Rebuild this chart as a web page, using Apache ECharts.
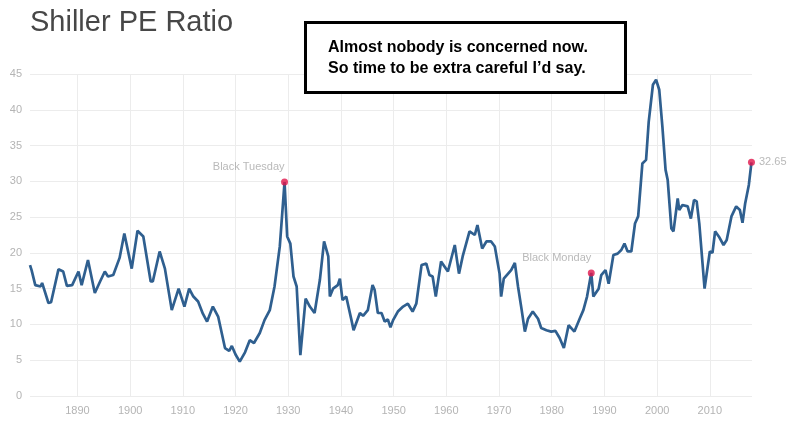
<!DOCTYPE html>
<html>
<head>
    <meta http-equiv="Content-Type" content="text/html; charset=UTF-8">
    <title>Shiller PE Ratio</title>
    <script src="https://cdn.jsdelivr.net/npm/echarts@6/dist/echarts.min.js"></script>
    <style>
        html, body { margin: 0; padding: 0; background: #fff; }
    </style>
</head>
<body>
    <div id="main" style="width: 800px;height:425px;"></div>

    <script type="text/javascript">
        // 数据：年份（小数表示年内位置）与 Shiller PE
        var years = [
            1881.0, 1881.3, 1882.0, 1883.0, 1883.3, 1884.5, 1885.0, 1886.4, 1887.3, 1888.0,
            1889.0, 1890.2, 1890.8, 1892.0, 1893.3, 1894.3, 1895.2, 1895.8, 1896.8, 1898.0,
            1898.9, 1900.3, 1901.4, 1902.5, 1903.9, 1904.3, 1905.6, 1906.6, 1907.9, 1909.2,
            1910.3, 1911.2, 1912.0, 1912.9, 1913.8, 1914.6, 1915.7, 1916.7, 1918.0, 1918.8,
            1919.3, 1920.0, 1920.8, 1921.8, 1922.7, 1923.5, 1924.6, 1925.5, 1926.5, 1927.4,
            1928.4, 1929.3, 1929.8, 1930.4, 1931.0, 1931.6, 1932.3, 1933.3, 1934.1, 1935.0,
            1936.0, 1936.8, 1937.6, 1937.9, 1938.5, 1939.4, 1939.8, 1940.3, 1941.0, 1942.0,
            1942.4, 1943.6, 1944.2, 1945.1, 1946.0, 1946.4, 1947.0, 1947.7, 1948.3, 1948.9,
            1949.4, 1949.9, 1950.8, 1951.8, 1952.7, 1953.6, 1954.3, 1955.3, 1956.2, 1956.8,
            1957.4, 1958.0, 1959.0, 1960.3, 1961.6, 1962.4, 1963.1, 1964.4, 1965.4, 1965.9,
            1966.8, 1967.6, 1968.5, 1969.2, 1970.1, 1970.4, 1970.9, 1972.3, 1973.0, 1973.6,
            1974.3, 1974.9, 1975.5, 1976.4, 1977.4, 1978.0, 1979.0, 1979.9, 1980.7, 1981.5,
            1982.3, 1983.2, 1984.3, 1985.3, 1986.0, 1986.7, 1987.5, 1987.9, 1988.9, 1989.4,
            1990.2, 1990.8, 1991.7, 1992.5, 1993.2, 1993.8, 1994.4, 1995.1, 1995.8, 1996.4,
            1997.2, 1997.9, 1998.4, 1999.2, 1999.8, 2000.4, 2001.0, 2001.6, 2002.0, 2002.7,
            2003.1, 2003.9, 2004.2, 2004.8, 2005.8, 2006.4, 2007.0, 2007.5, 2008.0, 2009.0,
            2010.0, 2010.5, 2011.0, 2011.7, 2012.6, 2013.2, 2014.1, 2015.0, 2015.7, 2016.2,
            2016.7, 2017.4, 2017.9
        ];
        var peValues = [
            18.3, 17.6, 15.5, 15.3, 15.8, 13.0, 13.1, 17.7, 17.4, 15.4,
            15.5, 17.4, 15.5, 19.0, 14.4, 16.0, 17.4, 16.7, 16.9, 19.3,
            22.7, 17.8, 23.1, 22.3, 16.0, 16.0, 20.2, 17.8, 12.0, 15.0,
            12.5, 15.0, 13.9, 13.2, 11.5, 10.4, 12.5, 11.1, 6.7, 6.3,
            7.0, 5.8, 4.8, 6.1, 7.8, 7.4, 8.8, 10.6, 12.0, 15.3,
            20.9, 29.9, 22.3, 21.3, 16.7, 15.3, 5.7, 13.6, 12.5, 11.6,
            16.2, 21.6, 19.5, 13.9, 15.0, 15.5, 16.4, 13.4, 13.9, 10.6,
            9.2, 11.6, 11.2, 12.0, 15.5, 14.8, 11.6, 11.6, 10.4, 10.7,
            9.6, 10.6, 11.8, 12.5, 12.9, 11.8, 12.9, 18.3, 18.5, 16.9,
            16.7, 13.9, 18.8, 17.4, 21.1, 17.1, 19.5, 23.0, 22.5, 23.9,
            20.6, 21.6, 21.6, 20.9, 17.1, 13.9, 16.4, 17.6, 18.6, 15.3,
            12.0, 9.0, 10.8, 11.8, 10.8, 9.5, 9.2, 9.0, 9.1, 8.1,
            6.7, 9.9, 9.0, 10.8, 12.0, 13.9, 17.2, 13.9, 15.0, 16.9,
            17.6, 15.7, 19.7, 19.9, 20.4, 21.3, 20.2, 20.2, 24.1, 25.1,
            32.5, 33.0, 38.3, 43.5, 44.2, 42.8, 37.6, 31.6, 30.2, 23.4,
            23.0, 27.6, 26.0, 26.7, 26.5, 24.8, 27.4, 27.2, 24.1, 15.0,
            20.2, 20.0, 23.0, 22.3, 21.1, 21.8, 25.1, 26.5, 26.0, 24.2,
            26.9, 29.5, 32.65
        ];

        // 标注点
        var eventYears = [1929.3, 1987.5, 2017.9];
        var eventValues = [29.9, 17.2, 32.65];
        var eventLabels = ['Black Tuesday', 'Black Monday', '32.65'];

        // 坐标轴刻度
        var yearTicks = [1890, 1900, 1910, 1920, 1930, 1940, 1950, 1960, 1970, 1980, 1990, 2000, 2010];

        var lineData = years.map(function (y, i) { return [y, peValues[i]]; });
        var eventData = eventYears.map(function (y, i) {
            var last = i === eventYears.length - 1;
            return {
                value: [y, eventValues[i]],
                label: last
                    ? { position: 'right', distance: 4, formatter: eventLabels[i] }
                    : { position: 'top', align: 'right', distance: 6, formatter: eventLabels[i] }
            };
        });

        var myChart = echarts.init(document.getElementById('main'));
        myChart.setOption({
            animation: false,
            backgroundColor: '#fff',
            textStyle: { fontFamily: 'Liberation Sans, Arial, sans-serif' },
            title: {
                text: 'Shiller PE Ratio',
                left: 25,
                top: 3,
                textStyle: { fontSize: 29, fontWeight: 'normal', color: '#474747' }
            },
            grid: { left: 30, right: 48, top: 74, bottom: 29 },
            xAxis: {
                type: 'value',
                min: 1881,
                max: 2018,
                axisLine: { show: false },
                axisTick: { show: false, customValues: yearTicks },
                axisLabel: {
                    customValues: yearTicks,
                    formatter: function (v) { return String(v); },
                    color: '#b4b4b4', fontSize: 11, margin: 9
                },
                splitLine: { lineStyle: { color: '#ececec', width: 1 } }
            },
            yAxis: {
                type: 'value',
                min: 0,
                max: 45,
                interval: 5,
                axisLine: { show: false },
                axisTick: { show: false },
                axisLabel: { color: '#b4b4b4', fontSize: 11, margin: 8 },
                splitLine: { lineStyle: { color: '#ececec', width: 1 } }
            },
            series: [{
                type: 'line',
                data: lineData,
                showSymbol: false,
                lineStyle: { color: '#2f5f8f', width: 2.7 },
                z: 2
            }, {
                type: 'scatter',
                data: eventData,
                symbolSize: 7,
                itemStyle: { color: '#e0154b' },
                label: { show: true, color: '#a8a8a8', fontSize: 11 },
                z: 3
            }],
            graphic: [{
                type: 'rect',
                left: 304,
                top: 21,
                shape: { width: 320, height: 70 },
                style: { fill: '#fff', stroke: '#000', lineWidth: 3 },
                z: 10
            }, {
                type: 'text',
                left: 328,
                top: 37,
                style: {
                    text: 'Almost nobody is concerned now.\nSo time to be extra careful I\u2019d say.',
                    font: 'bold 16px "Liberation Sans", Arial, sans-serif',
                    lineHeight: 21,
                    fill: '#000'
                },
                z: 11
            }]
        });
    </script>
</body>
</html>
